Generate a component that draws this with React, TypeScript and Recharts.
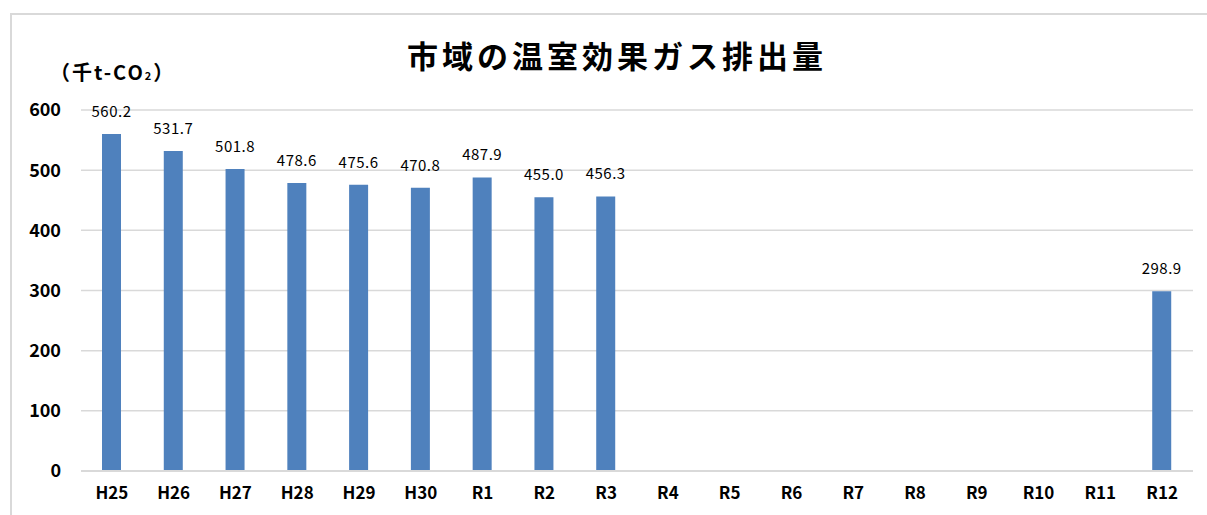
import React from 'react';
import { BarChart, Bar, XAxis, YAxis, CartesianGrid, LabelList } from 'recharts';

const categories = ['H25', 'H26', 'H27', 'H28', 'H29', 'H30', 'R1', 'R2', 'R3', 'R4', 'R5', 'R6', 'R7', 'R8', 'R9', 'R10', 'R11', 'R12'];
const emissions: (number | null)[] = [560.2, 531.7, 501.8, 478.6, 475.6, 470.8, 487.9, 455.0, 456.3, null, null, null, null, null, null, null, null, 298.9];
const yTicks = [0, 100, 200, 300, 400, 500, 600];

const data = categories.map((c, i) => ({ name: c, value: emissions[i] }));

const FONT = '"Noto Sans CJK JP", "Noto Sans", sans-serif';

export default function App() {
  return (
    <div style={{ position: 'absolute', left: 0, top: 0, width: 1207, height: 515, background: '#fff', overflow: 'hidden', fontFamily: FONT }}>
      <div style={{ position: 'absolute', left: 10, top: 13, width: 1230, height: 540, border: '2px solid #d9d9d9', boxSizing: 'border-box' }} />
      <div style={{ position: 'absolute', left: 0, width: 1234, top: 33, textAlign: 'center', fontSize: 31, fontWeight: 700, letterSpacing: 4, color: '#000', lineHeight: '44px' }}>
        市域の温室効果ガス排出量
      </div>
      <div style={{ position: 'absolute', left: 50, top: 58, fontSize: 20, fontWeight: 700, letterSpacing: 2, color: '#000', lineHeight: '28px', whiteSpace: 'nowrap' }}>
        （千t-CO<span style={{ fontSize: 11 }}>2</span>）
      </div>
      <BarChart
        width={1207}
        height={515}
        data={data}
        margin={{ top: 110, right: 14, bottom: 14, left: 0 }}
        style={{ position: 'absolute', left: 0, top: 0 }}
      >
        <CartesianGrid vertical={false} stroke="#d9d9d9" strokeWidth={1.5} />
        <XAxis
          dataKey="name"
          height={30}
          tickLine={false}
          axisLine={{ stroke: '#d9d9d9', strokeWidth: 2 }}
          tickSize={0}
          tickMargin={16}
          interval={0}
          tick={{ fill: '#000', fontSize: 17, fontWeight: 700, fontFamily: FONT }}
        />
        <YAxis
          width={81}
          domain={[0, 600]}
          ticks={yTicks}
          tickLine={false}
          axisLine={false}
          tickSize={0}
          tickMargin={20}
          tick={{ fill: '#000', fontSize: 18, fontWeight: 700, fontFamily: FONT }}
        />
        <Bar dataKey="value" fill="#4f81bd" barSize={19} isAnimationActive={false}>
          <LabelList
            dataKey="value"
            position="top"
            offset={17}
            formatter={(v: any) => (v == null ? '' : Number(v).toFixed(1))}
            style={{ fill: '#000', fontSize: 15, letterSpacing: 0.5, fontFamily: FONT }}
          />
        </Bar>
      </BarChart>
    </div>
  );
}
